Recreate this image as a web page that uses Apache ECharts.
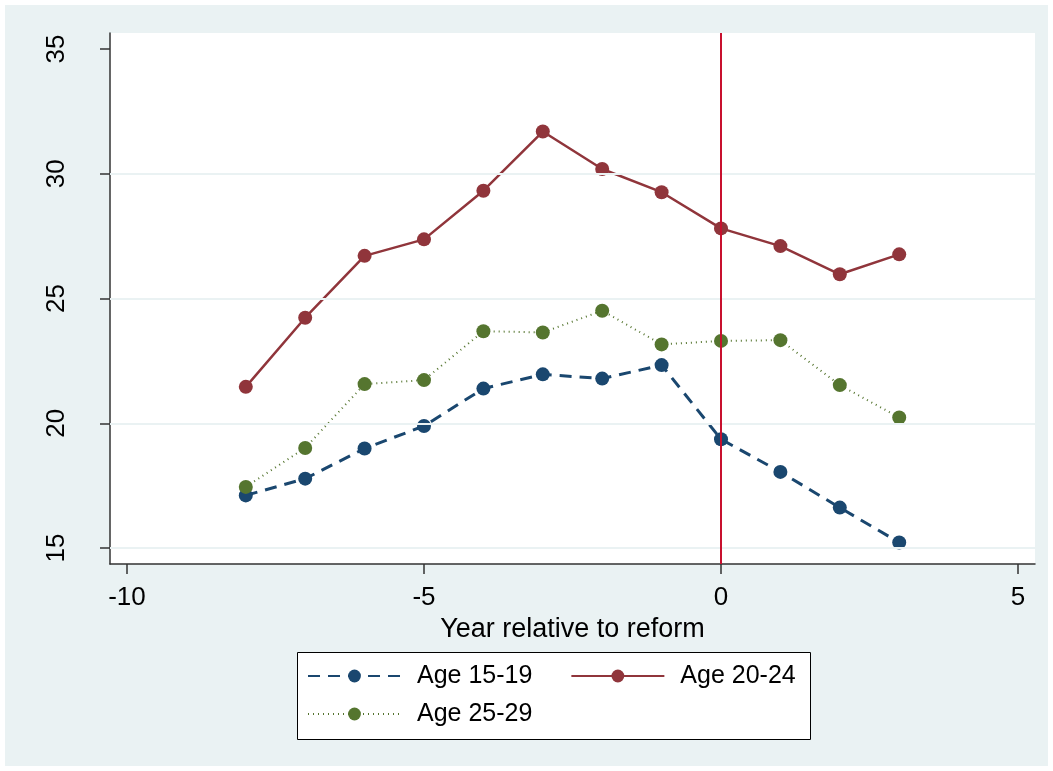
<!DOCTYPE html>
<html>
<head>
<meta charset="utf-8">
<script src="https://cdn.jsdelivr.net/npm/echarts@6/dist/echarts.min.js"></script>
<style>
  html, body { margin: 0; padding: 0; background: #fff; }
  #chart { width: 1053px; height: 771px; }
</style>
</head>
<body>
<div id="chart"></div>
<script>
var years = [-8, -7, -6, -5, -4, -3, -2, -1, 0, 1, 2, 3];
var age1519 = [17.11, 17.78, 18.99, 19.89, 21.39, 21.96, 21.79, 22.33, 19.36, 18.05, 16.62, 15.22];
var age2024 = [21.46, 24.23, 26.71, 27.37, 29.32, 31.69, 30.19, 29.26, 27.81, 27.10, 25.97, 26.77];
var age2529 = [17.45, 19.01, 21.57, 21.73, 23.69, 23.64, 24.51, 23.16, 23.30, 23.33, 21.53, 20.23];
var xTicks = [-10, -5, 0, 5];
var yTicks = [15, 20, 25, 30, 35];
var gridValues = [15, 20, 25, 30];
var reformYear = 0;

var font = '"Liberation Sans", Arial, sans-serif';

function pairs(ys) {
    return years.map(function (x, i) { return [x, ys[i]]; });
}

option = {
    animation: false,
    backgroundColor: '#fff',
    textStyle: { fontFamily: font },
    graphic: [
        {
            type: 'rect', z: -10, silent: true,
            shape: { x: 5, y: 5, width: 1043, height: 761 },
            style: { fill: '#EAF2F3' }
        },
        {
            type: 'rect', z: 5, silent: true,
            shape: { x: 297.5, y: 652.5, width: 513, height: 87 },
            style: { fill: '#fff', stroke: '#000', lineWidth: 1 }
        }
    ],
    grid: {
        left: 110, top: 33, right: 18, bottom: 207,
        show: true, backgroundColor: '#fff', borderWidth: 0
    },
    legend: [
        {
            data: ['Age 15-19', 'Age 20-24'],
            left: 307, top: 661, padding: 0, z: 10,
            itemWidth: 93, itemHeight: 16, itemGap: 38,
            textStyle: { fontSize: 25, color: '#000', fontFamily: font, lineHeight: 30, padding: [0, 0, 0, 11] }
        },
        {
            data: ['Age 25-29'],
            left: 307, top: 699, padding: 0, z: 10,
            itemWidth: 93, itemHeight: 16,
            textStyle: { fontSize: 25, color: '#000', fontFamily: font, lineHeight: 30, padding: [0, 0, 0, 11] }
        }
    ],
    xAxis: {
        type: 'value',
        min: -10.286, max: 5.286,
        name: 'Year relative to reform',
        nameLocation: 'middle',
        nameGap: 38,
        nameTextStyle: { fontSize: 27, color: '#000', fontFamily: font },
        axisLine: { show: true, onZero: false, lineStyle: { color: '#333', width: 1.5 } },
        axisTick: { show: true, length: 10, customValues: xTicks, lineStyle: { color: '#333', width: 1.5 } },
        axisLabel: { customValues: xTicks, fontSize: 26, color: '#000', margin: 21, fontFamily: font },
        splitLine: { show: false }
    },
    yAxis: {
        type: 'value',
        min: 14.36, max: 35.64,
        axisLine: { show: true, onZero: false, lineStyle: { color: '#333', width: 1.5 } },
        axisTick: { show: true, length: 10, customValues: yTicks, lineStyle: { color: '#333', width: 1.5 } },
        axisLabel: { customValues: yTicks, rotate: 90, fontSize: 26, color: '#000', margin: 40, fontFamily: font },
        splitLine: { show: false }
    },
    series: [
        {
            name: 'helper',
            type: 'line',
            data: [],
            z: 1,
            silent: true,
            markLine: {
                silent: true,
                symbol: 'none',
                label: { show: false },
                animation: false,
                data: gridValues.map(function (v) {
                    return { yAxis: v, lineStyle: { color: '#EAF2F3', width: 2, type: 'solid' } };
                }).concat([
                    { xAxis: reformYear, lineStyle: { color: '#C8102E', width: 2, type: 'solid' } }
                ])
            }
        },
        {
            name: 'Age 15-19',
            type: 'line',
            z: 3,
            data: pairs(age1519),
            symbol: 'circle', symbolSize: 14, showSymbol: true,
            itemStyle: { color: '#1A476F' },
            lineStyle: { color: '#1A476F', width: 3, type: [12, 8] }
        },
        {
            name: 'Age 20-24',
            type: 'line',
            z: 3,
            data: pairs(age2024),
            symbol: 'circle', symbolSize: 14, showSymbol: true,
            itemStyle: { color: '#90353B' },
            lineStyle: { color: '#90353B', width: 2.5, type: 'solid' }
        },
        {
            name: 'Age 25-29',
            type: 'line',
            z: 3,
            data: pairs(age2529),
            symbol: 'circle', symbolSize: 14, showSymbol: true,
            itemStyle: { color: '#55752F' },
            lineStyle: { color: '#55752F', width: 2, type: [1, 4] }
        }
    ]
};

var myChart = echarts.init(document.getElementById('chart'));
myChart.setOption(option);
</script>
</body>
</html>
